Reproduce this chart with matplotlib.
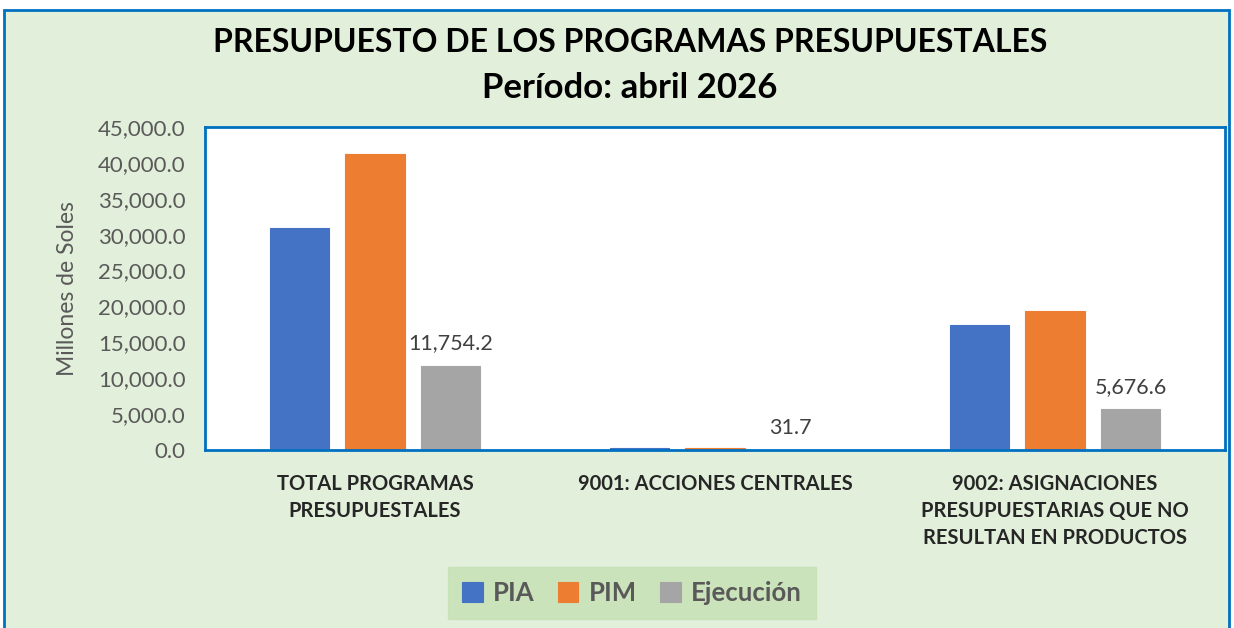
import numpy as np
import matplotlib.pyplot as plt
from matplotlib.patches import Rectangle

plt.rcParams['font.family'] = ['Lato', 'DejaVu Sans']

categorias = ["TOTAL PROGRAMAS\nPRESUPUESTALES",
              "9001: ACCIONES CENTRALES",
              "9002: ASIGNACIONES\nPRESUPUESTARIAS QUE NO\nRESULTAN EN PRODUCTOS"]
series = ["PIA", "PIM", "Ejecución"]
pia = [30950.0, 300.0, 17400.0]
pim = [41250.0, 330.0, 19350.0]
ejecucion = [11754.2, 31.7, 5676.6]
colores = ["#4472C4", "#ED7D31", "#A5A5A5"]

fig = plt.figure(figsize=(12.34, 6.28), dpi=100)
fig.patch.set_facecolor("white")

# fondo verde con borde azul
fondo = Rectangle((4 / 1234, -0.05), 1225 / 1234, 1 - 10 / 628 + 0.05,
                  transform=fig.transFigure, facecolor="#E2EFDA",
                  edgecolor="#0070C0", linewidth=2, zorder=-10)
fig.patches.append(fondo)

ax = fig.add_axes([205 / 1234, 1 - 450 / 628, 1020 / 1234, 323 / 628])
ax.set_facecolor("white")
for s in ax.spines.values():
    s.set_color("#0070C0")
    s.set_linewidth(2)

x = np.arange(len(categorias))
ancho = 0.176
paso = 0.222
valores = [pia, pim, ejecucion]
for i, (nombre, vals) in enumerate(zip(series, valores)):
    barras = ax.bar(x + (i - 1) * paso, vals, ancho, color=colores[i],
                    label=nombre, edgecolor=colores[i], linewidth=0.8)
    if nombre == "Ejecución":
        for b, v in zip(barras, vals):
            ax.text(b.get_x() + b.get_width() / 2, v + 1700, f"{v:,.1f}",
                    ha="center", va="bottom", fontsize=15.5, color="#404040")

ax.set_xlim(-0.5, 2.5)
ax.set_ylim(0, 45000)
ax.set_yticks(np.arange(0, 45001, 5000))
ax.set_yticklabels([f"{v:,.1f}" for v in np.arange(0, 45001, 5000)],
                   fontsize=16, color="#595959")
ax.set_xticks(x)
ax.set_xticklabels(categorias, fontsize=14.5, fontweight="bold",
                   color="#262626", linespacing=1.45, va="top")
ax.tick_params(axis="both", length=0)
ax.tick_params(axis="y", pad=14)
ax.tick_params(axis="x", pad=17)
ax.set_ylabel("Millones de Soles", fontsize=16.5, color="#595959", labelpad=14)

fig.text(630 / 1234, 1 - 43 / 628, "PRESUPUESTO DE LOS PROGRAMAS PRESUPUESTALES",
         ha="center", va="center", fontsize=23, fontweight="bold", color="black")
fig.text(630 / 1234, 1 - 88 / 628, "Período: abril 2026",
         ha="center", va="center", fontsize=25, fontweight="bold", color="black")

leg = fig.legend(loc="center", bbox_to_anchor=(632 / 1234, 1 - 593 / 628),
                 ncol=3, frameon=True, fancybox=False,
                 handlelength=0.8, handleheight=0.8, handletextpad=0.4,
                 columnspacing=0.9, borderpad=0.55,
                 prop={"weight": "bold", "size": 18.5})
leg.get_frame().set_facecolor("#C6E0B4")
leg.get_frame().set_edgecolor("#C6E0B4")
for t in leg.get_texts():
    t.set_color("#595959")

fig.savefig("out.png", dpi=100)
